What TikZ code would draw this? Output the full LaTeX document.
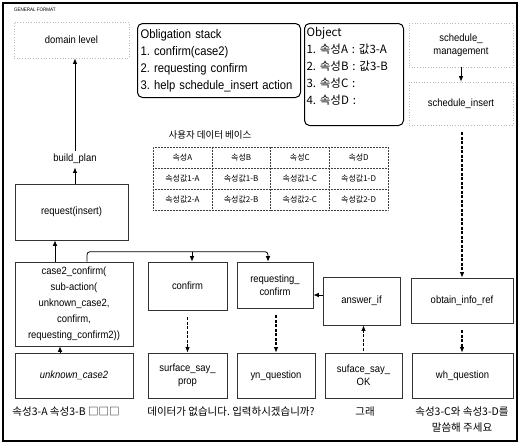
\documentclass[tikz,border=0pt]{standalone}
\usepackage{fontspec}
\setmainfont{Liberation Sans}
\newfontfamily\kr{Noto Sans CJK KR}
\newfontfamily\narrowf{Liberation Sans}[FakeStretch=0.9]
\usetikzlibrary{arrows.meta,matrix,calc}
\frenchspacing
\begin{document}
\begin{tikzpicture}[x=1pt,y=-1pt,
  lightbox/.style={draw=gray!55, dotted, line width=0.7pt, inner sep=1pt, align=center, font=\narrowf\fontsize{10.5}{13}\selectfont},
  darkbox/.style={draw=black!80, line width=0.6pt, inner sep=1pt, align=center, font=\narrowf\fontsize{10.5}{13}\selectfont},
  roundbox/.style={draw, line width=1pt, rounded corners=5pt, align=left, inner sep=2pt, anchor=north west, font=\narrowf\fontsize{12.5}{17}\selectfont},
  arr/.style={-{Latex[length=5.5pt,width=4.5pt]}, line width=0.8pt},
  darr/.style={-{Latex[length=5.5pt,width=4.5pt]}, line width=1.2pt, dash pattern=on 3pt off 1.5pt},
  captext/.style={font=\kr\fontsize{10.5}{16}\selectfont, align=center, inner sep=1pt}]
\useasboundingbox (0,0) rectangle (521,445);
\draw[line width=1.2pt] (3,3) rectangle (517,441);
\node[anchor=west, font=\narrowf\fontsize{5}{6}\selectfont, inner sep=0pt] (title) at (14,10) {GENERAL FORMAT};

% top row
\node[lightbox, minimum width=115pt, minimum height=36pt] (domain) at (71.5,40) {domain level};
\node[roundbox, minimum width=163pt, minimum height=74pt, text width=157pt] (oblig) at (137,23)
  {Obligation stack\\1. confirm(case2)\\2. requesting confirm\\3. help schedule\_insert action};
\node[roundbox, minimum width=99pt, minimum height=102pt, text width=95pt, font=\kr\fontsize{11.5}{17}\selectfont] (object) at (304,23)
  {Object\\1. 속성A : 값3-A\\2. 속성B : 값3-B\\3. 속성C :\\4. 속성D :\\\mbox{}};
\node[lightbox, minimum width=104pt, minimum height=44pt] (schedmgmt) at (461,45) {schedule\_\\management};
\node[lightbox, minimum width=104pt, minimum height=43pt] (schedins) at (461,103.5) {schedule\_insert};

% database
\node[font=\kr\fontsize{9.5}{11}\selectfont] (dbtitle) at (210,135) {사용자 데이터 베이스};
\matrix (db) [matrix of nodes, anchor=center, column sep=-0.5pt, row sep=-0.5pt,
  nodes={draw=black!75, densely dotted, line width=0.5pt, minimum width=58.75pt, minimum height=21pt, inner sep=0pt, font=\kr\fontsize{8}{9}\selectfont}] at (270.5,178.5)
{ 속성A & 속성B & 속성C & 속성D \\
  속성값1-A & 속성값1-B & 속성값1-C & 속성값1-D \\
  속성값2-A & 속성값2-B & 속성값2-C & 속성값2-D \\ };

% left column
\node[font=\narrowf\fontsize{10.5}{12}\selectfont] (build) at (75,159) {build\_plan};
\node[darkbox, minimum width=113pt, minimum height=56pt] (request) at (71.5,212) {request(insert)};
\node[darkbox, minimum width=118pt, minimum height=84pt, font=\narrowf\fontsize{10.5}{16}\selectfont] (case2) at (74,304)
  {case2\_confirm(\\sub-action(\\unknown\_case2,\\confirm,\\requesting\_confirm2))};

% middle row
\node[darkbox, minimum width=79pt, minimum height=48pt] (confirm) at (187.5,286) {confirm};
\node[darkbox, minimum width=76pt, minimum height=46pt] (reqconf) at (275,285) {requesting\_\\confirm};
\node[darkbox, minimum width=77pt, minimum height=48pt] (answer) at (361.5,301) {answer\_if};
\node[darkbox, minimum width=102pt, minimum height=45pt] (obtain) at (462,300.5) {obtain\_info\_ref};

% bottom row
\node[darkbox, minimum width=118pt, minimum height=45pt, font=\narrowf\itshape\fontsize{10.5}{13}\selectfont] (unknown) at (74,375.5) {unknown\_case2};
\node[darkbox, minimum width=79pt, minimum height=45pt] (ssprop) at (187.5,375.5) {surface\_say\_\\prop};
\node[darkbox, minimum width=78pt, minimum height=45pt] (ynq) at (276,375.5) {yn\_question};
\node[darkbox, minimum width=77pt, minimum height=45pt] (ssok) at (363.5,375.5) {suface\_say\_\\OK};
\node[darkbox, minimum width=101pt, minimum height=45pt] (whq) at (462.5,375.5) {wh\_question};

% captions
\node[captext] (cap1) at (66,412) {속성3-A 속성3-B □□□};
\node[captext] (cap2) at (231,412) {데이터가 없습니다. 입력하시겠습니까?};
\node[captext] (cap3) at (365,412) {그래};
\node[captext] (cap4) at (462,420) {속성3-C와 속성3-D를\\말씀해 주세요};

% solid arrows
\draw[arr] (build.north) -- (build.north |- domain.south);
\draw[arr] (build.south |- request.north) -- (build.south);
\coordinate (c2up) at ([xshift=-19pt]case2.north);
\draw[arr] (c2up) -- (c2up |- request.south);
\coordinate (unkup) at ([xshift=-14pt]unknown.north);
\draw[arr] (unkup) -- (unkup |- case2.south);
\draw[arr] (schedmgmt.south) -- (schedins.north);
\coordinate (busL) at ([xshift=13pt]case2.north);
\coordinate (rcin) at ([xshift=-7pt]reqconf.north);
\coordinate (cfin) at ([xshift=4.5pt]confirm.north);
\draw[arr, rounded corners=3pt] (busL) -- ++(0,-10) -| (rcin);
\draw[arr] (cfin) ++(0,-10) -- (cfin);
\coordinate (ay) at (0,295);
\draw[arr] (answer.west |- ay) -- (reqconf.east |- ay);

% dashed arrows
\draw[darr, shorten <=7pt] (confirm.south) -- (confirm.south |- ssprop.north);
\draw[darr, shorten <=7pt] (reqconf.south -| ynq.north) -- (ynq.north);
\draw[darr, shorten <=2pt] (ssok.north) -- (ssok.north |- answer.south);
\draw[darr, shorten <=7pt] (schedins.south -| obtain.north) -- (obtain.north);
\draw[darr, shorten <=7pt] (obtain.south) -- (obtain.south |- whq.north);
\end{tikzpicture}
\end{document}
